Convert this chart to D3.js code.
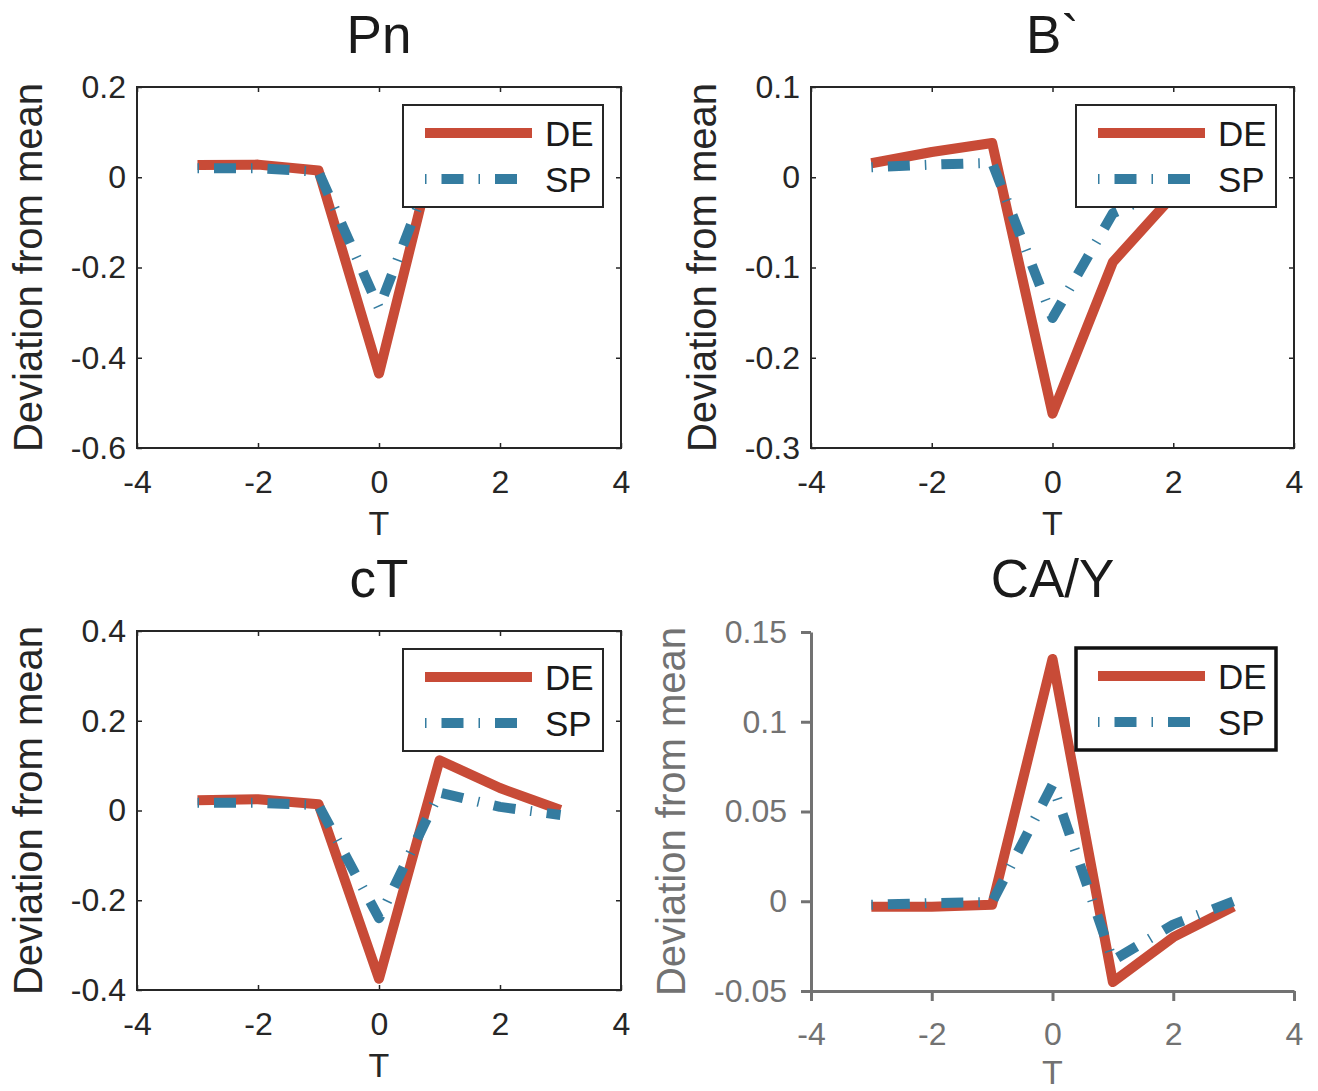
<!DOCTYPE html>
<html>
<head>
<meta charset="utf-8">
<script src="https://cdn.jsdelivr.net/npm/d3@7"></script>
<style>
  body { margin: 0; background: #fff; }
</style>
</head>
<body>
<script>
// shared x values (periods around the event)
const T = [-3, -2, -1, 0, 1, 2, 3];
const xTicks = [-4, -2, 0, 2, 4];
const seriesNames = ["DE", "SP"];
const titles = ["Pn", "B`", "cT", "CA/Y"];
const yLabel = "Deviation from mean";
const xLabel = "T";

// Pn
const pnDE = [0.027, 0.028, 0.015, -0.435, 0.105, 0.04, 0.005];
const pnSP = [0.02, 0.02, 0.012, -0.29, 0.06, 0.01, 0.0];
const pnTicks = [-0.6, -0.4, -0.2, 0, 0.2];
// B`
const bDE = [0.0155, 0.028, 0.038, -0.262, -0.094, -0.02, 0.0];
const bSP = [0.011, 0.014, 0.016, -0.156, -0.04, -0.01, 0.0];
const bTicks = [-0.3, -0.2, -0.1, 0, 0.1];
// cT
const ctDE = [0.023, 0.025, 0.014, -0.375, 0.112, 0.05, 0.001];
const ctSP = [0.017, 0.017, 0.012, -0.24, 0.04, 0.008, -0.01];
const ctTicks = [-0.4, -0.2, 0, 0.2, 0.4];
// CA/Y
const caDE = [-0.003, -0.003, -0.002, 0.135, -0.045, -0.02, -0.003];
const caSP = [-0.002, -0.001, -0.0005, 0.065, -0.033, -0.013, 0.0];
const caTicks = [-0.05, 0, 0.05, 0.1, 0.15];

const width = 1318;
const height = 1091;
const font = "'Liberation Sans', Arial, sans-serif";
const ink = "#262626";
const red = "#c84b37";
const blue = "#347ca0";

const svg = d3.select("body").append("svg")
    .attr("width", width)
    .attr("height", height)
    .style("font-family", font);

const panels = [
  { left: 137, top: 87, w: 484, h: 361, title: titles[0], de: pnDE, sp: pnSP, ticks: pnTicks, open: false, ylx: 42, titleY: 53 },
  { left: 811, top: 87, w: 483, h: 361, title: titles[1], de: bDE, sp: bSP, ticks: bTicks, open: false, ylx: 716, titleY: 53 },
  { left: 137, top: 631, w: 484, h: 359, title: titles[2], de: ctDE, sp: ctSP, ticks: ctTicks, open: false, ylx: 42, titleY: 597 },
  { left: 811, top: 632, w: 483, h: 359, title: titles[3], de: caDE, sp: caSP, ticks: caTicks, open: true, ylx: 685, titleY: 597 }
];

panels.forEach(p => {
  const x = d3.scaleLinear().domain([-4, 4]).range([0, p.w]);
  const y = d3.scaleLinear().domain(d3.extent(p.ticks)).range([p.h, 0]);
  const color = p.open ? "#727272" : ink;

  const g = svg.append("g").attr("transform", `translate(${p.left},${p.top})`);

  // title
  svg.append("text")
    .attr("x", p.left + p.w / 2)
    .attr("y", p.titleY)
    .attr("text-anchor", "middle")
    .attr("fill", "#1a1a1a")
    .style("font-size", "53px")
    .text(p.title);

  // y label
  svg.append("text")
    .attr("transform", `translate(${p.ylx},${p.top + p.h / 2}) rotate(-90)`)
    .attr("text-anchor", "middle")
    .attr("fill", color)
    .style("font-size", "40px")
    .text(yLabel);

  // x label
  svg.append("text")
    .attr("x", p.left + p.w / 2)
    .attr("y", p.top + p.h + (p.open ? 93 : 87))
    .attr("text-anchor", "middle")
    .attr("fill", color)
    .style("font-size", "34px")
    .text(xLabel);

  const fmt = d => String(d);
  let ax, ay;
  if (!p.open) {
    ax = d3.axisBottom(x).tickValues(xTicks).tickFormat(fmt).tickSize(-5).tickSizeOuter(0).tickPadding(22);
    ay = d3.axisLeft(y).tickValues(p.ticks).tickFormat(fmt).tickSize(-5).tickSizeOuter(0).tickPadding(11);
  } else {
    ax = d3.axisBottom(x).tickValues(xTicks).tickFormat(fmt).tickSize(10).tickSizeOuter(0).tickPadding(21);
    ay = d3.axisLeft(y).tickValues(p.ticks).tickFormat(fmt).tickSize(10).tickSizeOuter(0).tickPadding(14);
  }

  const gx = g.append("g").attr("transform", `translate(0,${p.h})`).call(ax);
  const gy = g.append("g").call(ay);
  [gx, gy].forEach(a => {
    a.selectAll("text").attr("fill", color).style("font-size", "32px").style("font-family", font);
    a.selectAll("line").attr("stroke", color).attr("stroke-width", p.open ? 3 : 1.5);
    if (p.open) a.select(".domain").attr("stroke", color).attr("stroke-width", 3);
    else a.select(".domain").remove();
  });

  if (!p.open) {
    // mirrored ticks on top and right, then the box
    g.append("g").call(d3.axisTop(x).tickValues(xTicks).tickFormat("").tickSize(-5).tickSizeOuter(0))
      .call(a => a.select(".domain").remove())
      .selectAll("line").attr("stroke", ink).attr("stroke-width", 1.5);
    g.append("g").attr("transform", `translate(${p.w},0)`)
      .call(d3.axisRight(y).tickValues(p.ticks).tickFormat("").tickSize(-5).tickSizeOuter(0))
      .call(a => a.select(".domain").remove())
      .selectAll("line").attr("stroke", ink).attr("stroke-width", 1.5);
    g.append("rect")
      .attr("width", p.w).attr("height", p.h)
      .attr("fill", "none").attr("stroke", ink).attr("stroke-width", 2);
  }

  const line = d3.line()
    .x((d, i) => x(T[i]))
    .y(d => y(d));

  g.append("path")
    .datum(p.de)
    .attr("d", line)
    .attr("fill", "none")
    .attr("stroke", red)
    .attr("stroke-width", 10)
    .attr("stroke-linejoin", "round");

  g.append("path")
    .datum(p.sp)
    .attr("d", line)
    .attr("fill", "none")
    .attr("stroke", blue)
    .attr("stroke-width", 10)
    .attr("stroke-linejoin", "round")
    .attr("stroke-dasharray", "1.5 15 22 15");

  // legend
  const lg = g.append("g").attr("transform", `translate(${p.w - 218},${p.open ? 16 : 18})`);
  lg.append("rect")
    .attr("width", 200).attr("height", 102)
    .attr("fill", "#fff")
    .attr("stroke", p.open ? "#111" : ink)
    .attr("stroke-width", p.open ? 3.5 : 2);

  const items = lg.selectAll("g.item")
    .data(seriesNames)
    .enter()
    .append("g")
    .attr("class", "item")
    .attr("transform", (d, i) => `translate(0,${i === 0 ? 28 : 74})`);

  items.append("line")
    .attr("x1", 22).attr("x2", 129)
    .attr("stroke", (d, i) => i === 0 ? red : blue)
    .attr("stroke-width", 10)
    .attr("stroke-dasharray", (d, i) => i === 0 ? null : "1.5 15 22 15");

  items.append("text")
    .attr("x", 142)
    .attr("dy", "0.36em")
    .attr("fill", "#1a1a1a")
    .style("font-size", "35px")
    .text(d => d);
});
</script>
</body>
</html>
